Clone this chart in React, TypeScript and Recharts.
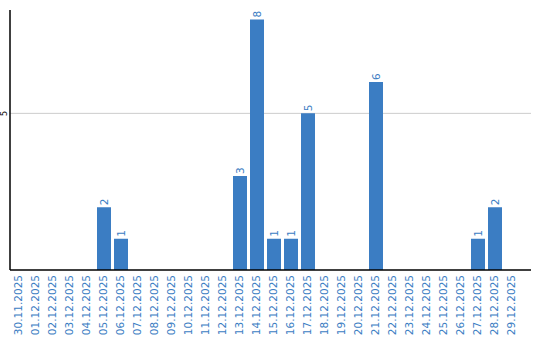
import React from "react";
import { BarChart, Bar, XAxis, YAxis, CartesianGrid, LabelList } from "recharts";

const dates = [
  "30.11.2025", "01.12.2025", "02.12.2025", "03.12.2025", "04.12.2025", "05.12.2025",
  "06.12.2025", "07.12.2025", "08.12.2025", "09.12.2025", "10.12.2025", "11.12.2025",
  "12.12.2025", "13.12.2025", "14.12.2025", "15.12.2025", "16.12.2025", "17.12.2025",
  "18.12.2025", "19.12.2025", "20.12.2025", "21.12.2025", "22.12.2025", "23.12.2025",
  "24.12.2025", "25.12.2025", "26.12.2025", "27.12.2025", "28.12.2025", "29.12.2025",
];
const counts = [0, 0, 0, 0, 0, 2, 1, 0, 0, 0, 0, 0, 0, 3, 8, 1, 1, 5, 0, 0, 0, 6, 0, 0, 0, 0, 0, 1, 2, 0];
const yTicks = [5];
const yMax = 8.3;

const data = dates.map((d, i) => ({ date: d, value: counts[i] }));

const BLUE = "#3b7dc3";
const FONT = "DejaVu Sans, sans-serif";

const XTick = (props: any) => {
  const { x, y, payload } = props;
  return (
    <text
      x={0}
      y={0}
      transform={`translate(${x + 3},${y - 3}) rotate(-90)`}
      textAnchor="end"
      fill={BLUE}
      fontSize={10.5}
      fontFamily={FONT}
    >
      {payload.value}
    </text>
  );
};

const YTick = (props: any) => {
  const { y, payload } = props;
  return (
    <text
      x={0}
      y={0}
      transform={`translate(${7},${y}) rotate(-90)`}
      textAnchor="middle"
      fill="#000"
      fontSize={8}
      fontFamily={FONT}
    >
      {payload.value}
    </text>
  );
};

const ValueLabel = (props: any) => {
  const { x, y, width, value } = props;
  if (!value) return null;
  const cx = x + width / 2 + 4;
  return (
    <text
      x={0}
      y={0}
      transform={`translate(${cx},${y - 2}) rotate(-90)`}
      textAnchor="start"
      fill={BLUE}
      fontSize={10.5}
      fontFamily={FONT}
    >
      {value}
    </text>
  );
};

const gridGen = (args: any) => {
  const off = args.offset || {};
  const top = off.top ?? 10;
  const h = off.height ?? 260;
  return yTicks.map((t) => top + h * (1 - t / yMax));
};

export default function App() {
  return (
    <div style={{ position: "absolute", left: 0, top: 0, width: 540, height: 340, background: "#fff" }}>
      <BarChart
        width={540}
        height={340}
        data={data}
        margin={{ top: 10, right: 9, bottom: 0, left: 0 }}
        barSize={14}
      >
        <CartesianGrid vertical={false} stroke="#cccccc" horizontalCoordinatesGenerator={gridGen} />
        <XAxis
          dataKey="date"
          interval={0}
          height={70}
          tick={<XTick />}
          tickLine={false}
          axisLine={{ stroke: "#000", strokeWidth: 1.5 }}
          padding={{ left: 0, right: 11 }}
        />
        <YAxis
          width={10}
          domain={[0, yMax]}
          ticks={yTicks}
          tick={<YTick />}
          tickLine={false}
          axisLine={{ stroke: "#000", strokeWidth: 1.5 }}
          allowDataOverflow
        />
        <Bar dataKey="value" fill={BLUE} isAnimationActive={false}>
          <LabelList dataKey="value" content={<ValueLabel />} />
        </Bar>
      </BarChart>
    </div>
  );
}
